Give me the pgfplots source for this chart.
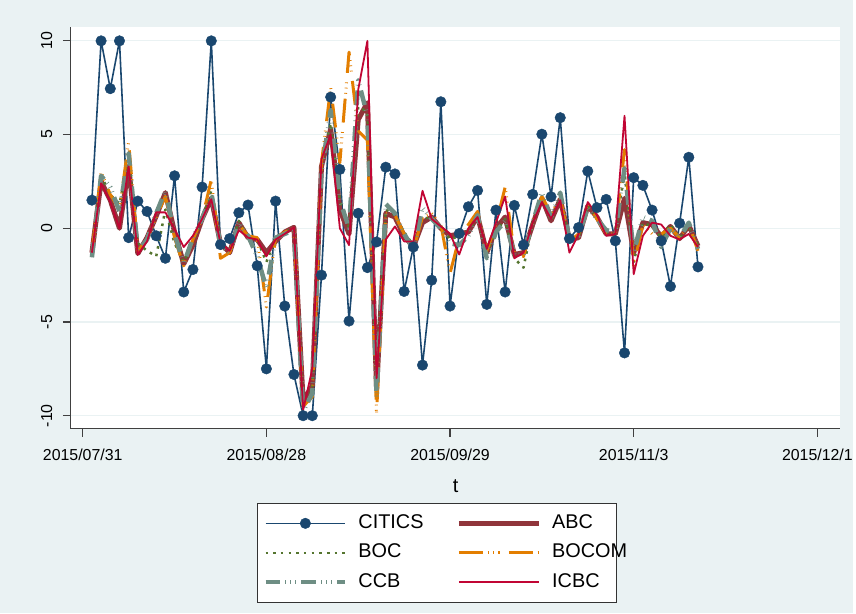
\documentclass[border=0pt]{standalone}
\usepackage{pgfplots}
\pgfplotsset{compat=1.18}
\usepackage{pgfplotstable}
\usepackage{fontspec}
\setmainfont{Liberation Sans}
\definecolor{bgc}{HTML}{EAF2F3}
\definecolor{sNavy}{HTML}{1A476F}
\definecolor{sMaroon}{HTML}{90353B}
\definecolor{sGreen}{HTML}{55752F}
\definecolor{sOrange}{HTML}{E37E00}
\definecolor{sTeal}{HTML}{6E8E84}
\definecolor{sCran}{HTML}{C10534}
\pgfplotstableread{
i CITICS ABC BOC BOCOM CCB ICBC
1 1.5 -1.3 -1.3 -1.3 -1.55 -1.3
2 10 2.5 2.8 3.0 2.8 2.4
3 7.45 1.5 1.8 1.8 2.2 1.4
4 10 0.0 1.3 1.0 0.9 0.0
5 -0.5 3.3 3.8 4.6 4.0 3.3
6 1.45 -1.35 -0.8 -1.2 -1.2 -1.4
7 0.9 -0.5 -1.2 -0.6 -0.6 -0.7
8 -0.4 0.65 -1.5 0.6 0.8 0.85
9 -1.6 1.9 1.0 1.7 2.0 0.85
10 2.8 -0.2 -0.8 -0.5 -0.3 -0.05
11 -3.4 -1.9 -1.8 -2.0 -1.9 -1.0
12 -2.2 -0.9 -0.7 -0.6 -0.5 -0.4
13 2.2 0.5 0.5 0.5 0.5 0.5
14 10 1.6 2.0 2.6 1.9 1.55
15 -0.87 -0.8 -0.9 -1.6 -0.9 -0.8
16 -0.55 -1.3 -1.2 -1.3 -1.3 -1.2
17 0.83 0.3 0.4 0.2 0.3 -0.1
18 1.24 -0.5 -0.5 -0.4 -0.4 -0.5
19 -2.0 -0.6 -0.6 -0.5 -1.5 -0.6
20 -7.5 -1.3 -1.8 -4.2 -3.2 -1.5
21 1.45 -0.7 -0.6 -0.5 -0.5 -0.6
22 -4.15 -0.2 -0.2 -0.2 -0.3 -0.3
23 -7.8 0.05 0.0 0.0 -0.1 0.05
24 -10 -9.2 -9.5 -9.5 -9.8 -9.7
25 -10 -8.4 -8.6 -9.0 -8.8 -7.5
26 -2.5 3.3 3.5 3.5 3.0 3.7
27 7.0 5.3 5.6 7.5 6.3 5.0
28 3.14 1.0 1.5 3.5 1.5 0.0
29 -4.95 -0.3 0.0 9.4 0.0 -0.9
30 0.8 5.8 6.5 5.2 7.9 7.4
31 -2.1 6.7 6.2 4.7 6.0 10.0
32 -0.73 -8.6 -8.5 -9.9 -9.0 -8.0
33 3.26 0.8 1.0 0.8 1.3 -0.6
34 2.9 0.6 0.7 0.7 0.8 0.1
35 -3.37 -0.4 -0.2 -0.3 -0.3 -0.7
36 -1.0 -1.0 -0.9 -1.2 -1.1 -0.7
37 -7.3 0.3 0.5 0.6 1.1 2.0
38 -2.77 0.6 0.6 0.8 0.5 0.5
39 6.75 0.0 0.1 0.2 0.0 0.1
40 -4.15 -0.4 -0.6 -2.4 -0.8 -0.3
41 -0.28 -0.3 -0.4 -0.5 -0.9 -1.4
42 1.15 -0.2 -0.1 0.2 -0.4 0.0
43 2.02 0.65 0.6 0.9 0.7 0.6
44 -4.06 -1.3 -1.3 -1.2 -1.6 -1.1
45 0.97 0.0 -0.2 0.2 -0.2 0.3
46 -3.4 0.6 0.5 2.2 0.4 1.7
47 1.22 -1.4 -1.6 -1.3 -1.4 -1.6
48 -0.89 -1.3 -2.1 -1.5 -1.4 -1.3
49 1.81 0.2 0.3 0.3 0.3 0.3
50 5.02 1.6 1.6 1.7 1.9 1.4
51 1.68 0.4 0.4 0.8 0.6 0.5
52 5.9 1.55 1.6 1.6 1.9 1.5
53 -0.55 -0.6 -0.6 -0.7 -0.6 -1.3
54 0.04 -0.5 -0.5 -0.3 -0.4 -0.3
55 3.05 1.2 1.2 1.3 1.1 1.4
56 1.1 0.6 0.6 0.5 0.5 0.7
57 1.54 -0.3 -0.2 -0.3 -0.1 -0.4
58 -0.67 -0.3 -0.3 -0.3 -0.2 -0.3
59 -6.65 1.6 3.0 4.2 3.2 6.0
60 2.7 -1.3 -1.8 -2.0 -1.3 -2.45
61 2.29 0.3 0.3 0.2 0.6 -0.4
62 0.97 0.2 0.1 -0.3 0.4 0.3
63 -0.67 -0.45 -0.5 -0.3 -1.0 0.2
64 -3.1 0.1 0.2 0.0 0.0 -0.4
65 0.27 -0.55 -0.5 -0.5 -0.5 -0.6
66 3.79 0.15 0.1 0.2 0.3 -0.3
67 -2.06 -0.95 -0.9 -1.2 -1.1 -1.0
}\datatable
\begin{document}
\begin{tikzpicture}
\fill[bgc] (-71bp,-185bp) rectangle (785bp,430bp);
\begin{axis}[
  at={(0,0)}, anchor=south west,
  scale only axis, width=772bp, height=403bp,
  xmin=-1.303, xmax=82.5, ymin=-10.69, ymax=10.745,
  axis background/.style={fill=white},
  axis x line*=bottom, axis y line*=left,
  axis line style={black!75, line width=1.2bp, -},
  xtick={0,20,40,60,80},
  xticklabels={2015/07/31,2015/08/28,2015/09/29,2015/11/3,2015/12/1},
  ytick={-10,-5,0,5,10},
  yticklabels={-10,-5,0,5,10},
  tick align=outside,
  major tick length=8bp,
  tick style={black!75, line width=1.2bp},
  ymajorgrids, grid style={bgc, line width=1.2bp},
  ticklabel style={font=\fontsize{16}{19}\selectfont},
  yticklabel style={rotate=90, anchor=south},
  yticklabel shift=7bp,
  xticklabel shift=9bp,
  xlabel={t}, xlabel style={font=\fontsize{20}{24}\selectfont, yshift=-12bp},
  every axis plot/.append style={line join=round},
  legend columns=2,
  legend cell align=left,
  legend style={at={(axis description cs:0.4754,-0.309)}, anchor=center,
    draw=black!80, line width=0.8bp, fill=white,
    font=\fontsize{20}{23}\selectfont,
    inner xsep=6bp, inner ysep=9.5bp, row sep=7.5bp, column sep=9bp,
    /tikz/every even column/.append style={column sep=31bp},
    nodes={inner xsep=2bp, inner ysep=2bp, text height=14bp, text depth=4bp}},
  legend image code/.code={\draw[mark repeat=2,mark phase=2,#1] plot coordinates {(0bp,0bp) (40bp,0bp) (80bp,0bp)};},
]
\addplot[sNavy, line width=1.6bp, mark=*, mark size=5.3bp, mark options={solid, fill=sNavy, draw=sNavy, line width=0.4bp}] table[x=i,y=CITICS]{\datatable};
\addlegendentry{CITICS}
\addplot[sMaroon, line width=5bp, no marks] table[x=i,y=ABC]{\datatable};
\addlegendentry{ABC}
\addplot[sGreen, line width=2.5bp, dash pattern=on 2.6bp off 5.1bp, no marks] table[x=i,y=BOC]{\datatable};
\addlegendentry{BOC}
\addplot[sOrange, line width=3bp, dash pattern=on 24bp off 5bp on 0.8bp off 4.5bp on 0.8bp off 4.5bp on 0.8bp off 9.6bp, no marks] table[x=i,y=BOCOM]{\datatable};
\addlegendentry{\makebox[56bp][l]{BOCOM}}
\addplot[sTeal, line width=4.5bp, dash pattern=on 15bp off 5bp on 0.6bp off 4.4bp on 0.6bp off 4.4bp on 0.6bp off 5.3bp, no marks] table[x=i,y=CCB]{\datatable};
\addlegendentry{CCB}
\addplot[sCran, line width=1.8bp, no marks] table[x=i,y=ICBC]{\datatable};
\addlegendentry{ICBC}
\end{axis}
\end{tikzpicture}
\end{document}
